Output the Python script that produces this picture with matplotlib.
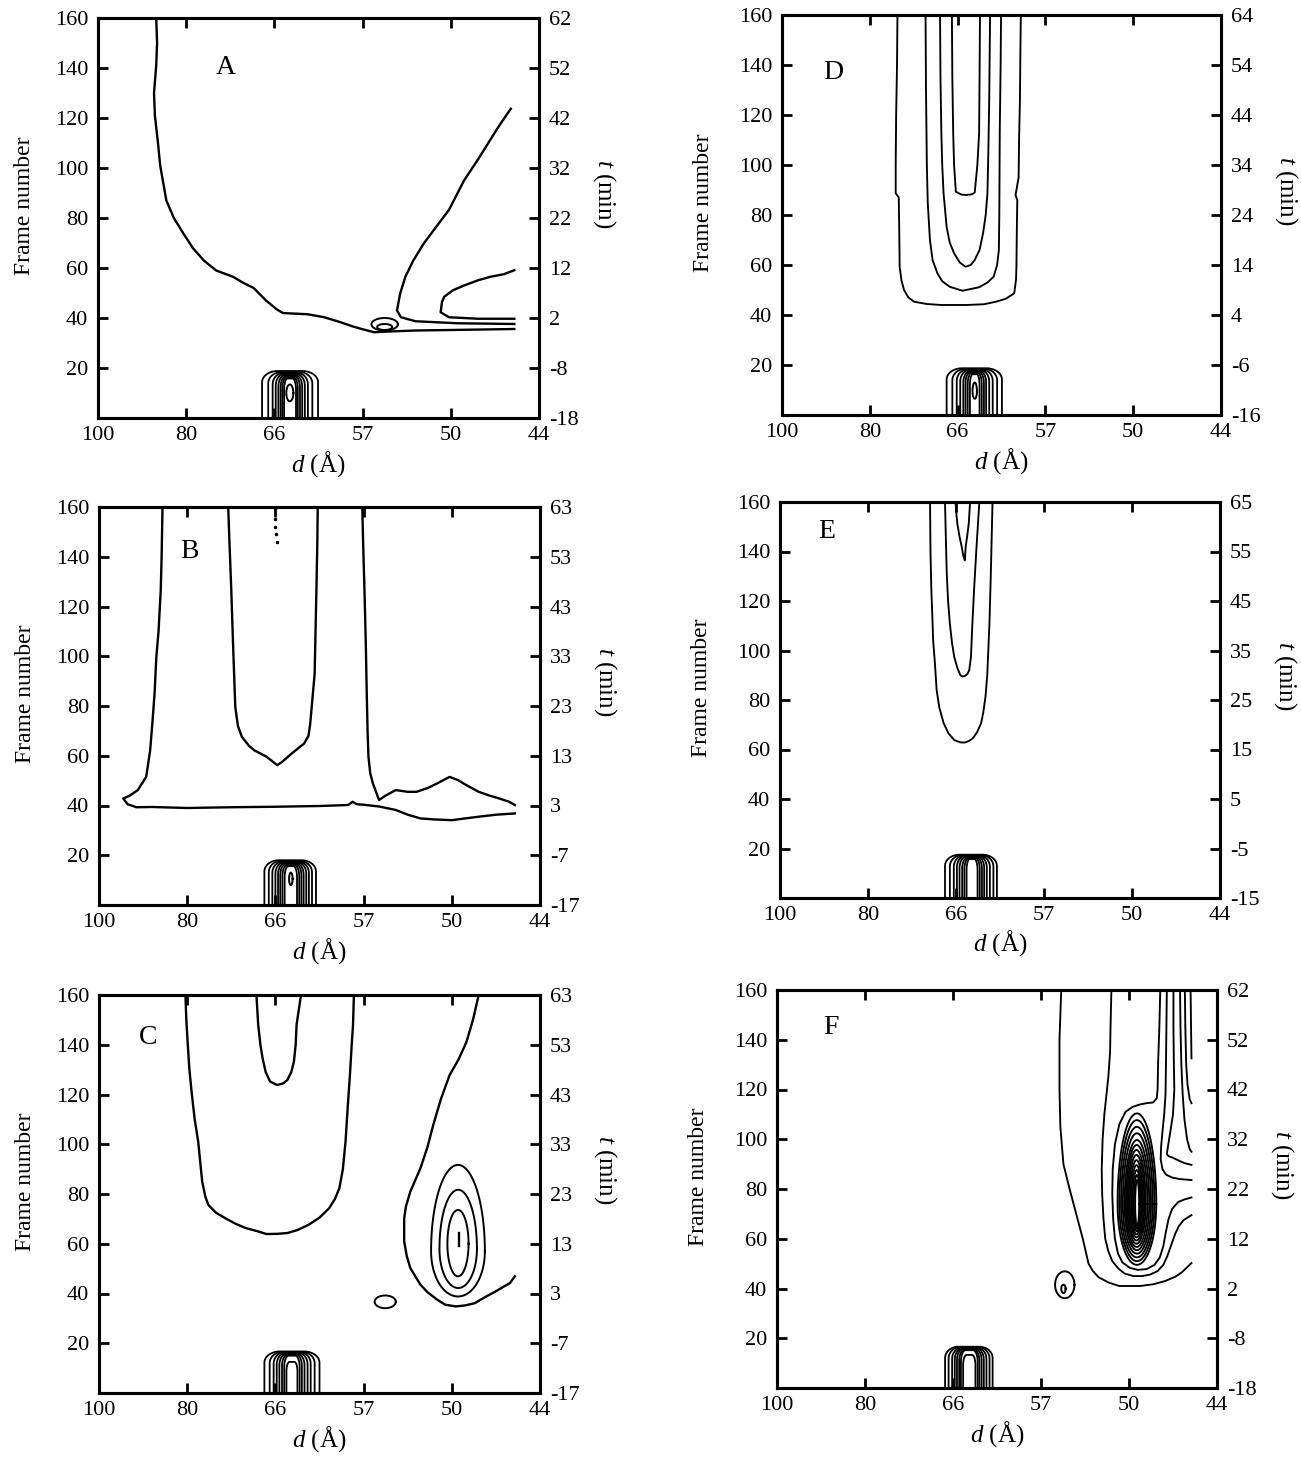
import numpy as np
import matplotlib.pyplot as plt

# Polices type Times pour tout le graphique
plt.rcParams['font.family'] = ['Liberation Serif', 'DejaVu Serif']
plt.rcParams['mathtext.fontset'] = 'custom'
plt.rcParams['mathtext.rm'] = 'Liberation Serif'
plt.rcParams['mathtext.it'] = 'Liberation Serif:italic'

# ---------------------------------------------------------------
# Données : x = canal du détecteur (0-100),
# y = numéro de trame (0-160)
# ---------------------------------------------------------------
panels = ['A', 'B', 'C', 'D', 'E', 'F']
t_start = [-18, -17, -17, -16, -15, -18]       # t (min) à la trame 0
d_labels = ['100', '80', '66', '57', '50', '44']
channel_ticks = [0, 20, 40, 60, 80, 100]
frame_ticks = [20, 40, 60, 80, 100, 120, 140, 160]
letter_pos = [(29, 140), (20.6, 142), (11.1, 143), (11.6, 137), (10.7, 148), (12.3, 145)]

# pic initial (trames 0-18) : bords gauche/droit et sommet de chaque niveau
A_peak_left = [37.2, 38.6, 39.6, 40.3, 40.9, 41.4, 41.8, 42.2]
A_peak_right = [49.9, 48.6, 47.6, 46.9, 46.3, 45.8, 45.3, 44.9]
A_peak_top = [18.8, 18.3, 17.9, 17.5, 17.1, 16.7, 16.3, 15.8]
B_peak_left = [37.5, 38.5, 39.3, 40.0, 40.6, 41.1, 41.6, 42.1]
B_peak_right = [49.2, 48.3, 47.6, 47.0, 46.4, 45.9, 45.4, 44.9]
B_peak_top = [18.0, 17.7, 17.4, 17.1, 16.8, 16.5, 16.1, 15.6]
C_peak_left = [37.5, 38.7, 39.6, 40.3, 40.9, 41.5, 42.0, 42.5]
C_peak_right = [50.0, 48.9, 48.0, 47.3, 46.6, 46.0, 45.5, 45.0]
C_peak_top = [16.7, 16.5, 16.3, 16.0, 15.7, 15.4, 15.0, 12.5]
D_peak_left = [37.5, 38.8, 39.8, 40.6, 41.3, 41.8, 42.3, 42.8]
D_peak_right = [50.1, 49.0, 48.0, 47.2, 46.5, 46.0, 45.5, 45.0]
D_peak_top = [18.7, 18.4, 18.1, 17.8, 17.5, 17.2, 16.8, 16.3]
E_peak_left = [37.5, 38.6, 39.5, 40.2, 40.8, 41.4, 41.9, 42.4]
E_peak_right = [49.3, 48.5, 47.7, 47.0, 46.4, 45.9, 45.4, 44.9]
E_peak_top = [17.5, 17.3, 17.1, 16.9, 16.7, 16.4, 16.1, 15.7]
F_peak_left = [38.2, 39.0, 39.8, 40.4, 40.9, 41.4, 41.8, 42.3]
F_peak_right = [49.0, 48.3, 47.6, 47.0, 46.5, 46.0, 45.6, 45.1]
F_peak_top = [16.6, 16.4, 16.2, 16.0, 15.8, 15.5, 15.2, 13.3]

# contours fermés : (gauche, droite, bas, haut, milieu)
A_loops = [(62.0, 68.0, 35.0, 40.0, 37.5), (63.3, 66.7, 35.2, 37.6, 36.4),
           (42.7, 44.3, 6.7, 13.4, 10.0)]
B_loops = [(43.1, 43.9, 8.0, 13.0, 10.5)]
C_loops = [(75.3, 87.5, 38.8, 91.7, 57.0), (77.2, 85.7, 42.2, 81.7, 58.0),
           (79.0, 83.8, 46.9, 73.6, 60.0), (62.5, 67.3, 34.1, 39.2, 36.7)]
D_loops = [(43.4, 44.4, 6.5, 13.0, 9.5)]
E_loops = []
F_loops = [(63.2, 67.6, 36.1, 46.9, 41.5), (64.6, 65.6, 38.2, 41.5, 39.9)]
F_ring_left = [77.4, 77.8, 78.2, 78.6, 79.0, 79.3, 79.6, 79.9, 80.2, 80.5, 80.8, 81.1, 81.4]
F_ring_right = [86.2, 85.8, 85.4, 85.0, 84.6, 84.2, 83.8, 83.5, 83.2, 82.9, 82.7, 82.5, 82.3]
F_ring_top = [110.4, 107.7, 105.0, 102.4, 99.7, 97.7, 95.7, 93.7, 91.6, 89.6, 87.6, 85.6, 83.6]
F_ring_bottom = [49.5, 51.0, 52.5, 54.0, 55.4, 56.7, 58.0, 59.3, 60.6, 61.8, 63.0, 64.0, 65.0]
F_ring_mid = 74.0

# contours ouverts (canal, trame)
A_lines = [
    [(13.2, 160), (13.4, 150), (13.2, 141), (12.7, 130), (12.9, 121), (13.6, 110), (14.1, 101),
     (15.5, 87), (17.2, 80), (19.3, 74), (21.5, 68), (24, 63), (26.8, 59), (30.6, 56.5), (33, 54),
     (35.3, 52), (38.1, 47), (40.5, 43.5), (41.9, 42), (44, 41.8), (47.5, 41.5), (51.3, 40.3),
     (55, 38.3), (58, 36.5), (59.8, 35.6), (62.6, 34.3), (66, 34.6), (72, 35), (80, 35.2), (94.4, 35.6)],
    [(93.6, 123.7), (91, 117), (88.5, 110), (86.2, 103.5), (83, 95), (79.6, 83.3), (76.5, 76),
     (73.9, 69.9), (71.5, 63), (69.7, 56.5), (68.5, 49.7), (67.8, 43), (68.7, 40.3), (72, 38.7),
     (81.4, 37.9), (94.4, 37.6)],
    [(94.4, 59.1), (92, 57.5), (89, 56.5), (86.2, 55.1), (83, 53), (80.5, 51.1), (78.5, 48.5),
     (78, 46.4), (77.7, 42.3), (79.6, 40.3), (86.2, 39.7), (94.4, 39.7)],
]
B_lines = [
    [(14.4, 160), (14.2, 140), (14, 126.5), (13.5, 110), (13, 99.7), (12.6, 85), (12.1, 73),
     (11.6, 62.2), (10.7, 51.5), (8.8, 46.2), (7, 44), (5.5, 42.8), (6.5, 40.5), (8.5, 39.3),
     (12, 39.4), (20, 39.0), (30, 39.3), (40, 39.5), (50, 39.8), (56.5, 40.2), (57.5, 41.5),
     (58.5, 40.5), (60, 40.3), (63.5, 39.6), (67.3, 38.2), (70, 36.3), (72.9, 34.8), (76, 34.4),
     (80, 34.1), (83, 34.8), (86.1, 35.5), (90, 36.3), (94.3, 36.8)],
    [(29.3, 160), (29.6, 145), (30, 126.5), (30.3, 110), (30.5, 99.7), (30.9, 79.7), (31.5, 72),
     (32.4, 67.6), (34, 64), (35.2, 62.2), (38, 59.6), (39.5, 57.5), (40.4, 56.2), (41.5, 57.5),
     (43.7, 60.9), (46.5, 64.9), (47.5, 68), (47.9, 72.9), (48.5, 85), (48.9, 93), (49.1, 110),
     (49.3, 126.5), (49.5, 145), (49.6, 160)],
    [(59.7, 160), (59.9, 145), (60.2, 126.5), (60.5, 105), (60.7, 86.3), (60.9, 70), (61.1, 59.6),
     (61.5, 53), (62.1, 48.9), (63.5, 42.2), (65, 44), (67.3, 46.2), (70, 45.5), (72, 45.5),
     (74.5, 47), (76.7, 48.9), (79.5, 51.5), (81.4, 50.2), (83.5, 48), (86.1, 45.5), (88.5, 44),
     (90.8, 42.8), (93, 41.5), (94.3, 40.2)],
]
B_dots = [(39.8, 159), (39.9, 155), (40.0, 152), (40.2, 149), (40.3, 146)]
C_lines = [
    [(19.6, 160), (19.8, 150), (20.1, 141), (20.5, 130), (21, 121), (21.7, 110), (22.5, 101),
     (23, 92), (23.4, 85), (24.1, 79), (24.8, 75.6), (26.5, 72.5), (28.6, 70.3), (31, 68),
     (33.3, 66.3), (36, 65), (38, 63.9), (40.5, 64), (42.7, 64.3), (45, 65.5), (47.5, 67.6),
     (50, 70.5), (52.2, 74.3), (53.5, 78), (54.5, 82.3), (55.3, 90), (55.9, 101), (56.4, 115),
     (56.9, 127.8), (57.3, 140), (57.6, 148), (57.8, 160)],
    [(35.7, 160), (36.1, 148), (36.6, 140), (37.1, 134.5), (37.8, 129), (38.8, 125.2),
     (40.4, 123.8), (41.8, 124.5), (42.7, 125.8), (43.6, 129), (44.2, 133.2), (44.6, 140),
     (44.8, 148), (45.8, 160)],
    [(86.1, 160), (84.8, 150), (83.3, 141), (81.5, 134), (79.5, 127.8), (77.5, 118), (75.8, 107.8),
     (74.5, 99), (72.9, 90.4), (70.6, 81), (69.6, 75), (69.2, 70.3), (69.2, 60.9), (69.8, 55),
     (70.6, 50.2), (72.9, 43.5), (74.5, 40.5), (76.7, 37.5), (78.5, 35.5), (80.9, 34.8), (83, 35.2),
     (85.2, 36.1), (87.5, 38.5), (89.9, 40.8), (91.5, 42.5), (93.2, 44.2), (94.3, 46.9)],
    [(81.7, 59.0), (81.7, 64.5)],
]
D_lines = [
    [(26.3, 160), (26.2, 140), (26.0, 120), (25.9, 100), (25.9, 88.7), (26.6, 87), (26.7, 75),
     (26.8, 59.3), (27.2, 54), (27.8, 50), (28.8, 47), (30.1, 45.3), (33, 44.4), (36.3, 44),
     (42, 44), (46, 44.3), (48.7, 45.3), (51, 46.5), (52.9, 48.7), (53.3, 54), (53.4, 59.3),
     (53.5, 75), (53.6, 86), (53.2, 88), (53.9, 95), (54.0, 110), (54.2, 126), (54.3, 145), (54.4, 160)],
    [(32.7, 160), (32.8, 130), (33, 99.3), (33.2, 85), (33.7, 70), (34.3, 62), (35.4, 56.7),
     (36.5, 53.5), (38.2, 51.3), (41.1, 49.7), (44.9, 51.1), (46.8, 53), (48.2, 55.3), (49.0, 60),
     (49.4, 66), (49.5, 80), (49.6, 112.7), (49.8, 140), (49.9, 160)],
    [(36.0, 160), (36.1, 135), (36.3, 112.7), (36.5, 100), (36.8, 88.7), (37.5, 75.3), (38.2, 69),
     (39.2, 64.7), (40.5, 61), (41.8, 59.3), (43, 60), (43.9, 62), (45, 66), (45.8, 72.7),
     (46.4, 80), (46.8, 88.7), (47.0, 105), (47.2, 126), (47.4, 160)],
    [(38.7, 160), (38.8, 135), (39.0, 112.7), (39.2, 100), (39.6, 89.3), (40.8, 88.2), (42, 88),
     (43.3, 88.3), (43.9, 89), (44.5, 100), (44.9, 112.7), (45.0, 135), (45.1, 160)],
]
E_lines = [
    [(34.1, 160), (34.2, 140), (34.4, 124.3), (34.6, 115), (34.8, 104.2), (35.2, 95), (35.6, 84),
     (36.2, 77), (37.2, 70.6), (38.3, 66.5), (39.6, 63.8), (41, 62.9), (42, 62.8), (43, 63.5),
     (43.8, 64.5), (44.8, 67), (45.7, 70.6), (46.2, 75), (46.7, 81.3), (47.1, 90), (47.6, 110.9),
     (47.9, 130), (48.1, 145), (48.3, 160)],
    [(37.5, 160), (37.7, 145), (37.9, 131), (38.2, 120), (38.6, 110.9), (39.1, 103), (39.6, 97.4),
     (40.3, 93), (41, 90), (41.5, 89.5), (42, 89.7), (42.6, 90.5), (43, 92), (43.4, 97.4),
     (43.7, 110), (44.1, 124.3), (44.6, 140), (45.3, 160)],
    [(39.9, 160), (40.1, 155), (40.3, 151.3), (40.8, 146), (41.3, 141.9), (41.7, 138), (42, 136.4),
     (42.1, 139), (42.2, 141.9), (42.6, 147), (42.9, 151.3), (43.2, 160)],
]
F_lines = [
    [(64.6, 160), (64.4, 150), (64.2, 140), (64.2, 120), (64.4, 105), (65.1, 90), (66.5, 80),
     (68, 70), (69.5, 60), (70.8, 50), (71.8, 47), (73.1, 44.5), (75.5, 42.3), (77.8, 41),
     (82.5, 41), (85.5, 41.7), (88.2, 43), (90.5, 44.7), (92, 46.5), (94.2, 50.2)],
    [(76.0, 160), (75.8, 145), (75.7, 135), (75.3, 125), (75.0, 120), (74.4, 110), (74.0, 100),
     (73.8, 88), (73.9, 78), (74.2, 68), (74.6, 60), (75.3, 55), (76.2, 51), (77.6, 48), (79, 46),
     (81, 45), (83, 45), (84.8, 45.6), (86.5, 47), (87.8, 49.5), (88.7, 53), (89.5, 57),
     (90.5, 62), (91.3, 65), (92.4, 67.5), (94.2, 69.5)],
    [(87.1, 160), (86.9, 145), (86.6, 130), (86.5, 120), (86.3, 116.5), (85.5, 114.8), (84, 114.5),
     (82.5, 114), (80.8, 113), (79.2, 111), (77.8, 106), (76.8, 98), (76.3, 88), (76.2, 78),
     (76.4, 68), (76.8, 60), (77.5, 54), (78.5, 50.5), (80.2, 48.3), (82, 47.5), (84, 47.8),
     (85.8, 49.5), (87, 52.5), (87.8, 57), (88.3, 62), (89, 68), (89.8, 72), (91.2, 74.8),
     (92.6, 75.8), (94.2, 76.6)],
    [(88.6, 160), (88.5, 145), (88.4, 130), (88.3, 118), (88.0, 110), (87.6, 103), (87.3, 97),
     (87.2, 92), (87.6, 88), (88.4, 85.8), (89.8, 84.6), (91.5, 84), (94.2, 83.6)],
    [(90.1, 160), (90.1, 145), (90.2, 130), (90.3, 120), (90.0, 110), (89.3, 102), (88.8, 96.5),
     (88.6, 94), (89.0, 93.2), (89.8, 92.7), (91.2, 91.5), (92.6, 90.4), (94.2, 89.7)],
    [(91.6, 160), (91.7, 145), (91.9, 130), (92.2, 118), (92.6, 108), (93.2, 100), (93.8, 96),
     (94.2, 95)],
    [(92.7, 160), (92.8, 145), (93.0, 130), (93.3, 122), (93.8, 116), (94.2, 114.5)],
    [(94.0, 160), (94.1, 145), (94.2, 132.5)],
]

peaks = {'A': (A_peak_left, A_peak_right, A_peak_top), 'B': (B_peak_left, B_peak_right, B_peak_top),
         'C': (C_peak_left, C_peak_right, C_peak_top), 'D': (D_peak_left, D_peak_right, D_peak_top),
         'E': (E_peak_left, E_peak_right, E_peak_top), 'F': (F_peak_left, F_peak_right, F_peak_top)}
loops = {'A': A_loops, 'B': B_loops, 'C': C_loops, 'D': D_loops, 'E': E_loops, 'F': F_loops}
lines = {'A': A_lines, 'B': B_lines, 'C': C_lines, 'D': D_lines, 'E': E_lines, 'F': F_lines}

# position des cadres en pixels (x0, y0, x1, y1)
W, H = 1301, 1459
boxes = {'A': (98, 18, 539, 418), 'B': (99, 507, 540, 905), 'C': (99, 995, 540, 1393),
         'D': (782, 15, 1221, 415), 'E': (780, 502, 1220, 898), 'F': (777, 990, 1217, 1388)}


def arch(l, r, top):
    # contour en forme de U renversé posé sur la trame 0
    rh = 0.28 * (r - l)
    rv = min(4.5, 0.3 * top)
    th1 = np.linspace(np.pi, np.pi / 2, 12)
    th2 = np.linspace(np.pi / 2, 0, 12)
    x = np.concatenate([[l], l + rh + rh * np.cos(th1), r - rh + rh * np.cos(th2), [r]])
    y = np.concatenate([[0], top - rv + rv * np.sin(th1), top - rv + rv * np.sin(th2), [0]])
    return x, y


def egg(l, r, b, t, mid):
    th = np.linspace(0, 2 * np.pi, 80)
    s = np.sin(th)
    x = (l + r) / 2 + (r - l) / 2 * np.cos(th)
    y = np.where(s > 0, mid + (t - mid) * s, mid + (mid - b) * s)
    return x, y


fig = plt.figure(figsize=(W / 100, H / 100), dpi=100)

for i, p in enumerate(panels):
    x0, y0, x1, y1 = boxes[p]
    ax = fig.add_axes([x0 / W, 1 - y1 / H, (x1 - x0) / W, (y1 - y0) / H])
    ax.set_xlim(0, 100)
    ax.set_ylim(0, 160)

    # les contours bruités des panneaux A-C sont plus épais
    lw_line = 1.7 if p in 'ABC' else 1.35
    for seg in lines[p]:
        xs, ys = zip(*seg)
        ax.plot(xs, ys, color='black', lw=lw_line, solid_joinstyle='round')

    pl, pr, pt = peaks[p]
    for l, r, t in zip(pl, pr, pt):
        xs, ys = arch(l, r, t)
        ax.plot(xs, ys, color='black', lw=1.3)

    for l, r, b, t, mid in loops[p]:
        xs, ys = egg(l, r, b, t, mid)
        ax.plot(xs, ys, color='black', lw=1.4)

    if p == 'F':
        for l, r, b, t in zip(F_ring_left, F_ring_right, F_ring_bottom, F_ring_top):
            xs, ys = egg(l, r, b, t, F_ring_mid)
            ax.plot(xs, ys, color='black', lw=1.35)
    if p == 'B':
        bx, by = zip(*B_dots)
        ax.plot(bx, by, 'k.', ms=3)

    lx, ly = letter_pos[i]
    ax.text(lx, ly, p, fontsize=20, ha='center', va='center')

    ax.set_xticks(channel_ticks)
    ax.set_xticklabels(d_labels)
    ax.set_yticks(frame_ticks)
    ax.tick_params(direction='in', length=7, width=2, top=True, labelsize=16)
    ax.tick_params(axis='x', pad=6)
    ax.tick_params(axis='y', pad=7)
    for sp in ax.spines.values():
        sp.set_linewidth(2.2)

    ax2 = ax.twinx()
    ax2.set_ylim(0, 160)
    t_ticks = [0] + frame_ticks
    ax2.set_yticks(t_ticks)
    ax2.set_yticklabels([str(t_start[i] + f // 2) for f in t_ticks])
    ax2.tick_params(direction='in', length=7, width=2, labelsize=16, pad=7)
    for sp in ax2.spines.values():
        sp.set_linewidth(2.2)

    ax.set_xlabel(r'$d$ (Å)', fontsize=18)
    ax.xaxis.set_label_coords(0.5, -0.115)
    ax.xaxis.label.set_va('center')

    left_col = x0 < 500
    ax.set_ylabel('Frame number', fontsize=17)
    ax.yaxis.set_label_coords(-0.166 if left_col else -0.178, 0.53)
    ax.yaxis.label.set_va('center')

    ax2.set_ylabel(r'$t$ (min)', fontsize=18, rotation=270)
    ax2.yaxis.set_label_coords(1.148, 0.56)
    ax2.yaxis.label.set_va('center')

fig.savefig('out.png', dpi=100)
